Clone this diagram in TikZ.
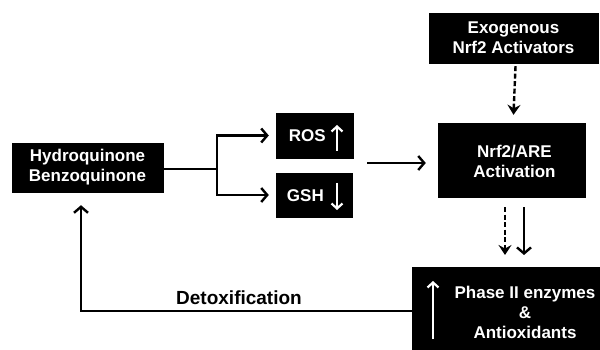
\documentclass[tikz,border=0pt]{standalone}
\usepackage{fontspec}
\setmainfont{Liberation Sans}
\usetikzlibrary{arrows.meta}
\begin{document}
\begin{tikzpicture}[x=1pt,y=1pt,
  box/.style={fill=black, draw=black, inner sep=0pt},
  wtxt/.style={text=white, font=\fontsize{17}{20}\selectfont\bfseries, align=center, inner sep=0pt},
  conn/.style={line width=2.4pt, -{Straight Barb[length=6pt,width=14pt]}},
  dconn/.style={line width=2.4pt, dash pattern=on 5pt off 2.5pt, -{Stealth[length=10pt,width=13pt,inset=3.5pt]}},
  warrow/.style={draw=white, line width=2.2pt, -{Straight Barb[length=5pt,width=11pt]}}]
\useasboundingbox (0,0) rectangle (600,-350);

% boxes
\node[box, minimum width=151pt, minimum height=49pt] (hq) at (87.5,-167.5) {};
\node[wtxt] at (87.5,-167.5) {Hydroquinone\\Benzoquinone};

\node[box, minimum width=77pt, minimum height=45pt] (ros) at (314.5,-135.5) {};
\node[wtxt, anchor=east] at (326,-136) {ROS};
\draw[warrow] (337,-151) -- (337,-125);

\node[box, minimum width=76pt, minimum height=44pt] (gsh) at (314,-195) {};
\node[wtxt, anchor=east] at (324,-196) {GSH};
\draw[warrow] (337,-183) -- (337,-210);

\node[box, minimum width=147pt, minimum height=74pt] (nrf) at (511.5,-160) {};
\node[wtxt] at (514.5,-161.5) {Nrf2/ARE\\Activation};

\node[box, minimum width=169pt, minimum height=50pt] (exo) at (513.5,-38) {};
\node[wtxt] at (513.5,-38) {Exogenous\\Nrf2 Activators};

\node[box, minimum width=190pt, minimum height=86pt, anchor=north west] (ph) at (412,-267) {};
\node[wtxt] at (525,-312) {Phase II enzymes\\\&\\Antioxidants};
\draw[warrow] (433,-339) -- (433,-281);

% connectors
\coordinate (split) at (217,-169);
\draw[line width=2.4pt] (hq.east |- split) -- (split);
\draw[conn] (split) |- ([shift={(-7,0)}]ros.west);
\draw[conn] (split) |- ([shift={(-7,0)}]gsh.west);
\draw[conn] ([shift={(14,-27.5)}]ros.east) -- ([shift={(-12,-3)}]nrf.west);
\draw[dconn] ([shift={(2,-3)}]exo.south) -- ([shift={(2,8)}]nrf.north);
\draw[dconn] ([shift={(-6.5,-10)}]nrf.south) -- ([shift={(-6.5,12)}]nrf.south |- ph.north);
\draw[conn] ([shift={(12.5,-10)}]nrf.south) -- ([shift={(12.5,12)}]nrf.south |- ph.north);
\coordinate (corner) at (81,-311);
\draw[conn] (ph.west |- corner) -- (corner) -- ([shift={(0,-13)}]corner |- hq.south);
\node[font=\fontsize{19}{20}\selectfont\bfseries, anchor=base] at (239,-304) {Detoxification};
\end{tikzpicture}
\end{document}
